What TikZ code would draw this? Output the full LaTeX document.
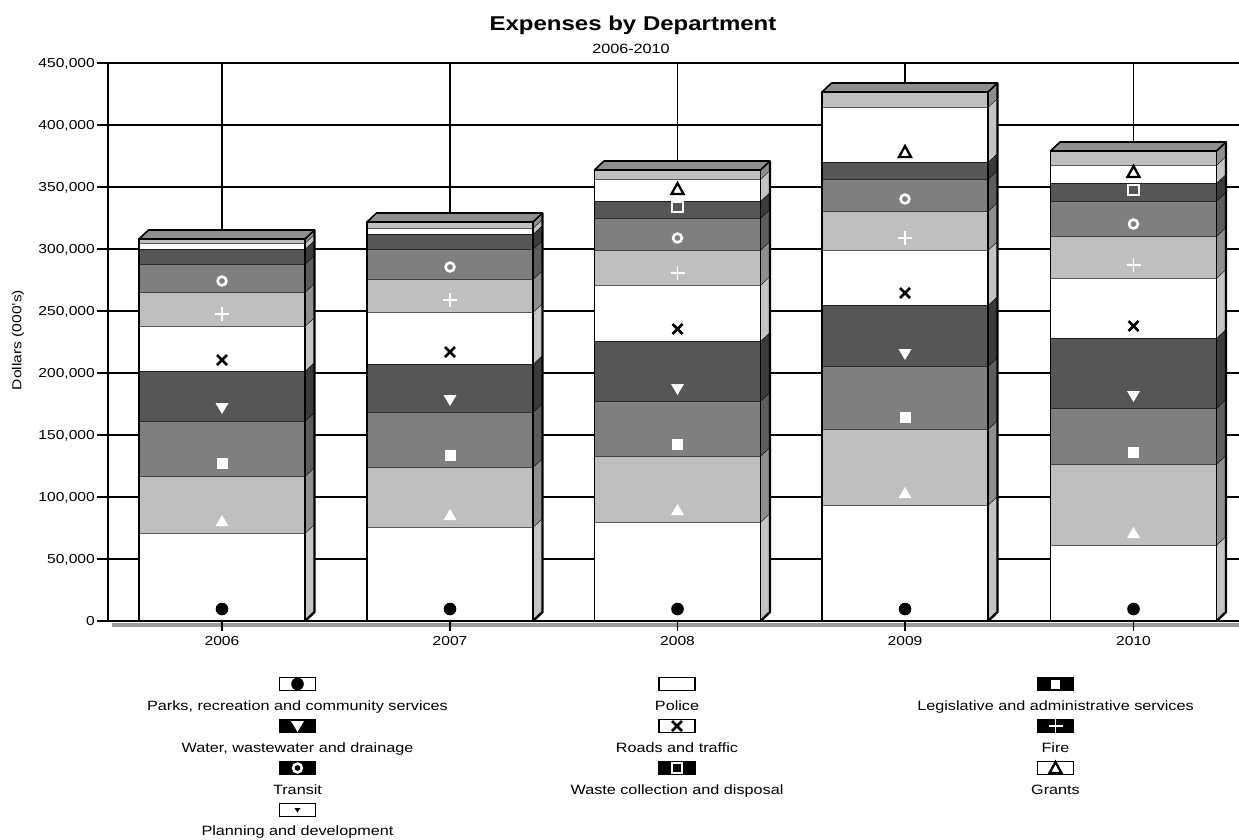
\documentclass[tikz,border=0pt]{standalone}
\usepackage{fontspec}
\setmainfont{Liberation Sans}[FakeStretch=1.2]

% face colours of the stacked segments
\definecolor{segL}{HTML}{BFBFBF}
\definecolor{segM}{HTML}{7F7F7F}
\definecolor{segD}{HTML}{565656}
% darker shades used on the receding faces
\definecolor{sideW}{HTML}{C4C4C4}
\definecolor{sideL}{HTML}{8E8E8E}
\definecolor{sideM}{HTML}{5C5C5C}
\definecolor{sideD}{HTML}{3A3A3A}
\definecolor{axisshadow}{HTML}{9A9A9A}

% stacking order: parks, police, legislative, water, roads, fire,
% transit, waste, grants, planning
\colorlet{segfill1}{white}  \colorlet{sidefill1}{sideW}
\colorlet{segfill2}{segL}   \colorlet{sidefill2}{sideL}
\colorlet{segfill3}{segM}   \colorlet{sidefill3}{sideM}
\colorlet{segfill4}{segD}   \colorlet{sidefill4}{sideD}
\colorlet{segfill5}{white}  \colorlet{sidefill5}{sideW}
\colorlet{segfill6}{segL}   \colorlet{sidefill6}{sideL}
\colorlet{segfill7}{segM}   \colorlet{sidefill7}{sideM}
\colorlet{segfill8}{segD}   \colorlet{sidefill8}{sideD}
\colorlet{segfill9}{white}  \colorlet{sidefill9}{sideW}
\colorlet{segfill10}{segL}  \colorlet{sidefill10}{sideL}

% series markers: #1 = x, #2 = y
\newcommand\MkDot[2]{\fill[black] (#1,#2) circle (6.3pt);}
\newcommand\MkTri[2]{\fill[white] ({#1-6.5},{#2+5}) -- ({#1+6.5},{#2+5}) -- (#1,{#2-6}) -- cycle;}
\newcommand\MkSq[2]{\fill[white] ({#1-5.5},{#2-5.5}) rectangle ({#1+5.5},{#2+5.5});}
\newcommand\MkDtri[2]{\fill[white] ({#1-6.5},{#2-5}) -- ({#1+6.5},{#2-5}) -- (#1,{#2+6}) -- cycle;}
\newcommand\MkCross[2]{\draw[black,line width=2.6pt] ({#1-5},{#2-5}) -- ({#1+5},{#2+5}) ({#1-5},{#2+5}) -- ({#1+5},{#2-5});}
\newcommand\MkPlus[2]{\draw[white,line width=1.4pt] ({#1-7},#2) -- ({#1+7},#2) (#1,{#2-7}) -- (#1,{#2+7});}
\newcommand\MkRing[2]{\draw[white,line width=2.6pt] (#1,#2) circle (4.4pt);}
\newcommand\MkBox[2]{\draw[white,line width=1.8pt] ({#1-5.2},{#2-5.2}) rectangle ({#1+5.2},{#2+5.2});}
\newcommand\MkOtri[2]{\draw[black,line width=2.3pt,line join=miter] ({#1-6},{#2+5}) -- ({#1+6},{#2+5}) -- (#1,{#2-6}) -- cycle;}

\begin{document}
\begin{tikzpicture}[x=1pt,y=-1pt,
    gridline/.style={black,line width=1.7pt},
    vgrid/.style={black,line width=1.1pt},
    segline/.style={black,line width=1.1pt},
    baroutline/.style={black,line width=1.8pt,line join=round},
    backedge/.style={black,line width=2.4pt,line join=round},
    axislabel/.style={font=\fontsize{13}{15}\selectfont,inner sep=0pt},
    legtext/.style={font=\fontsize{13.5}{16}\selectfont,inner sep=0pt,anchor=base},
    swatchW/.style={draw=black,fill=white,line width=1.5pt,minimum width=36pt,minimum height=13pt,inner sep=0pt},
    swatchB/.style={draw=black,fill=black,line width=1.5pt,minimum width=36pt,minimum height=13pt,inner sep=0pt}]

\useasboundingbox (0,0) rectangle (1239,839);
\fill[white] (0,0) rectangle (1239,839);

% titles
\node[font=\fontsize{20}{24}\selectfont\bfseries,inner sep=0pt,anchor=base] (title) at (633,30) {Expenses by Department};
\node[font=\fontsize{13.5}{16}\selectfont,inner sep=0pt,anchor=base] (subtitle) at (631,53.5) {2006-2010};

% value grid and axis labels
\foreach \v/\lab in {0/0,50/{50,000},100/{100,000},150/{150,000},200/{200,000},
                     250/{250,000},300/{300,000},350/{350,000},400/{400,000},450/{450,000}} {
  \draw[gridline] (97,{621-1.24*\v}) -- (1239,{621-1.24*\v});
  \node[axislabel,anchor=base east] (ylab\v) at (95,{625.6-1.24*\v}) {\lab};
}
\node[axislabel,rotate=90] (ytitle) at (18,340) {Dollars (000's)};

% category grid
\foreach \c in {222,450,677.5,905,1133.5}
  \draw[vgrid] (\c,63) -- (\c,621);

% stacked bars: centre / segment tops / overall top
\foreach \c/\tops/\last in {
    222/{533,476,421,371,326,292,264,249,243,239}/239,
    450/{527,467,412,364,312,279,249,234,228,222}/222,
    677.5/{522,456,401,341,285,250,218,201,179,170}/170,
    905/{505,429,366,305,250,211,179,162,107,92}/92,
    1133.5/{545,464,408,338,278,236,201,183,165,151}/151} {
  \foreach \t [count=\i, remember=\t as \b (initially 621)] in \tops {
    \fill[segfill\i] (\c-83,\b) rectangle (\c+83,\t);
    \fill[sidefill\i] (\c+83,\b) -- ++(9.5,-9) -- ({\c+92.5},{\t-9}) -- (\c+83,\t) -- cycle;
    \draw[segline] (\c-83,\t) -- (\c+83,\t) -- ++(9.5,-9);
  }
  \filldraw[fill=sideL,draw=black,line width=1.6pt,line join=round]
    (\c-83,\last) -- ++(9.5,-9) -- ({\c+92.5},{\last-9}) -- (\c+83,\last) -- cycle;
  \draw[baroutline] (\c-83,621) rectangle (\c+83,\last);
  \draw[backedge] (\c+83,621) -- ++(9.5,-9) -- ({\c+92.5},{\last-9});
}

% markers inside the segments
\foreach \c/\mks in {
    222/{Dot/609,Tri/521,Sq/463,Dtri/408,Cross/360,Plus/314,Ring/281},
    450/{Dot/609,Tri/515,Sq/455,Dtri/400,Cross/352,Plus/300,Ring/267},
    677.5/{Dot/609,Tri/510,Sq/444,Dtri/389,Cross/329,Plus/273,Ring/238,Box/207,Otri/189},
    905/{Dot/609,Tri/493,Sq/417,Dtri/354,Cross/293,Plus/238,Ring/199,Otri/152},
    1133.5/{Dot/609,Tri/533,Sq/452,Dtri/396,Cross/326,Plus/265,Ring/224,Box/190,Otri/172}} {
  \foreach \m/\y in \mks {
    \csname Mk\m\endcsname{\c}{\y}
  }
}

% axes
\draw[black,line width=2.2pt] (108,63) -- (108,621);
\draw[axisshadow,line width=3.5pt] (112,625) -- (1239,625);
\draw[black,line width=2.4pt] (108,621) -- (1239,621);
\foreach \c/\yr in {222/2006,450/2007,677.5/2008,905/2009,1133.5/2010} {
  \draw[black,line width=1.5pt] (\c,621) -- (\c,631);
  \node[axislabel,anchor=base] (year\yr) at (\c,645.6) {\yr};
}

% legend
\node[swatchW] (swParks) at (297.5,684) {};
\MkDot{297.5}{684}
\node[legtext] (lgParks) at (297.5,710) {Parks, recreation and community services};
\node[swatchB] (swWater) at (297.5,726) {};
\MkDtri{297.5}{726}
\node[legtext] (lgWater) at (297.5,752) {Water, wastewater and drainage};
\node[swatchB] (swTransit) at (297.5,768) {};
\MkRing{297.5}{768}
\node[legtext] (lgTransit) at (297.5,794) {Transit};
\node[swatchW] (swPlanning) at (297.5,810) {};
\fill[black] (294.5,808) -- (300.5,808) -- (297.5,812.5) -- cycle;
\node[legtext] (lgPlanning) at (297.5,835) {Planning and development};

\node[swatchW] (swPolice) at (677,684) {};
\node[legtext] (lgPolice) at (677,710) {Police};
\node[swatchW] (swRoads) at (677,726) {};
\MkCross{677}{726}
\node[legtext] (lgRoads) at (677,752) {Roads and traffic};
\node[swatchB] (swWaste) at (677,768) {};
\MkBox{677}{768}
\node[legtext] (lgWaste) at (677,794) {Waste collection and disposal};

\node[swatchB] (swLegis) at (1055.5,684) {};
\fill[white] (1051,679.5) rectangle (1060,688.5);
\node[legtext] (lgLegis) at (1055.5,710) {Legislative and administrative services};
\node[swatchB] (swFire) at (1055.5,726) {};
\MkPlus{1055.5}{726}
\node[legtext] (lgFire) at (1055.5,752) {Fire};
\node[swatchW] (swGrants) at (1055.5,768) {};
\MkOtri{1055.5}{768}
\node[legtext] (lgGrants) at (1055.5,794) {Grants};
\end{tikzpicture}
\end{document}
